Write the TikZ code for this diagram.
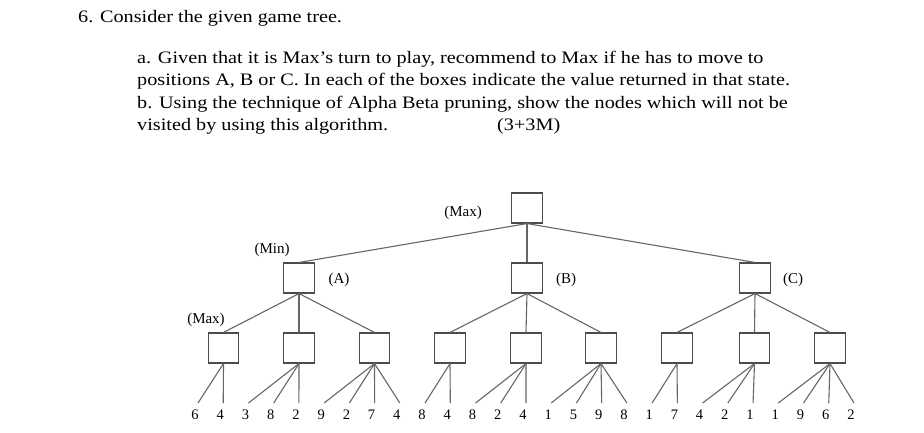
\documentclass[tikz,border=0pt]{standalone}
\usepackage{fontspec}
\setmainfont{Liberation Serif}
\newfontfamily\qfont{Liberation Serif}[FakeStretch=1.155]
\begin{document}
\begin{tikzpicture}[x=1pt,y=-1pt,
  box/.style={draw=black!70,line width=1.1pt,minimum width=30.5pt,minimum height=30pt,inner sep=0pt,fill=white},
  edge/.style={draw=black!60,line width=1.1pt},
  lbl/.style={font=\fontsize{15}{18}\selectfont,anchor=base,inner sep=0pt},
  leaf/.style={font=\fontsize{14.5}{18}\selectfont,anchor=base,inner sep=0pt},
  txt/.style={font=\qfont\fontsize{17.5}{21}\selectfont,anchor=base west,inner sep=0pt}]
\useasboundingbox (0,0) rectangle (924,432);
% question text
\node[txt] (t0) at (78,22) {6. Consider the given game tree.};
\node[txt] (t1) at (137,63) {a. Given that it is Max’s turn to play, recommend to Max if he has to move to};
\node[txt] (t2) at (137,85.5) {positions A, B or C. In each of the boxes indicate the value returned in that state.};
\node[txt] (t3) at (137,108) {b. Using the technique of Alpha Beta pruning, show the nodes which will not be};
\node[txt] (t4) at (137,130.5) {visited by using this algorithm.};
\node[txt] (t5) at (497,130.5) {(3+3M)};
% boxes
\node[box] (r) at (527,208) {};
\node[box] (A) at (299,278) {};
\node[box] (B) at (527,278) {};
\node[box] (C) at (755,278) {};
\foreach \n/\x in {1/223.5,2/299,3/374.5,4/450,5/526,6/601,7/677,8/754.5,9/830}
  \node[box] (m\n) at (\x,348) {};
% labels
\node[lbl] (lmax) at (463,216) {(Max)};
\node[lbl] (lmin) at (272,253.5) {(Min)};
\node[lbl] (la) at (339,283) {(A)};
\node[lbl] (lb) at (566,283) {(B)};
\node[lbl] (lc) at (793,283) {(C)};
\node[lbl] (lmax2) at (206,323) {(Max)};
% leaves
\foreach \i/\v in {0/6,1/4,2/3,3/8,4/2,5/9,6/2,7/7,8/4,9/8,10/4,11/8,12/2,13/4,14/1,15/5,16/9,17/8,18/1,19/7,20/4,21/2,22/1,23/1,24/9,25/6,26/2}{
  \coordinate (e\i) at ({198+25.23*\i},403);
  \node[leaf] (v\i) at ({195+25.23*\i},419) {\v};
}
% edges
\foreach \c in {A,B,C} \draw[edge] (r.south) -- (\c.north);
\foreach \c in {1,2,3} \draw[edge] (A.south) -- (m\c.north);
\foreach \c in {4,5,6} \draw[edge] (B.south) -- (m\c.north);
\foreach \c in {7,8,9} \draw[edge] (C.south) -- (m\c.north);
\foreach \m/\a/\b in {1/0/1,2/2/4,3/5/8,4/9/10,5/11/13,6/14/17,7/18/19,8/20/22,9/23/26}
  \foreach \i in {\a,...,\b} \draw[edge] (m\m.south) -- (e\i);
\end{tikzpicture}
\end{document}
